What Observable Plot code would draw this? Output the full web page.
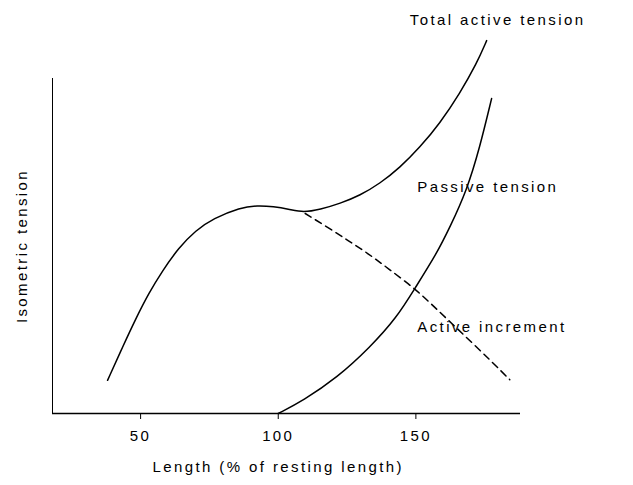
<!DOCTYPE html>
<html>
<head>
<meta charset="utf-8">
<script src="https://cdn.jsdelivr.net/npm/d3@7"></script>
<script src="https://cdn.jsdelivr.net/npm/@observablehq/plot@0.6"></script>
<style>
  html, body { margin: 0; padding: 0; background: #fff; }
  svg text { letter-spacing: 2.4px; }
</style>
</head>
<body>
<div id="chart"></div>
<script>
// Length (% of resting length) and isometric tension (arbitrary units, axis top = 100)
const totalLength  = [38.0, 43.5, 48.2, 52.9, 58.0, 63.8, 69.9, 76.4, 86.2, 92.4, 98.2, 104.3, 109.1, 115.2, 122.5, 129.7, 137.0, 144.2, 151.4, 158.7, 165.9, 172.1, 175.7];
const totalTension = [9.9, 19.9, 28.2, 35.8, 42.7, 49.4, 54.6, 58.2, 61.5, 62.1, 61.8, 60.9, 60.0, 60.9, 62.7, 65.1, 68.7, 73.4, 79.4, 86.6, 95.5, 104.5, 111.3];

const passiveLength  = [100, 109.1, 121.4, 133.3, 143.1, 149.6, 157.6, 162.3, 168.5, 173.2, 177.5];
const passiveTension = [0, 3.9, 10.7, 19.7, 28.7, 37.3, 47.8, 55.5, 66.6, 79.4, 94.0];

const activeLength  = [109.8, 118.1, 125.4, 132.6, 139.9, 149.6, 156.2, 163.4, 170.7, 177.9, 184.1];
const activeTension = [59.7, 55.5, 51.6, 47.8, 43.3, 37.3, 32.2, 26.6, 20.9, 15.2, 10.1];

const xTicks = [50, 100, 150];
const seriesLabels = ["Total active tension", "Passive tension", "Active increment"];
const labelX = [147.8, 150.5, 150.5];
const labelY = [117.3, 67.5, 25.7];
const xTitle = "Length (% of resting length)";
const yTitle = "Isometric tension";

const toRows = (xs, ys) => xs.map((x, i) => ({x, y: ys[i]}));
const total = toRows(totalLength, totalTension);
const passive = toRows(passiveLength, passiveTension);
const active = toRows(activeLength, activeTension);
const labels = seriesLabels.map((t, i) => ({t, x: labelX[i], y: labelY[i]}));

const font = "'Liberation Sans', Arial, Helvetica, sans-serif";

const chart = Plot.plot({
  width: 633,
  height: 485,
  marginLeft: 52,
  marginRight: 113,
  marginTop: 11,
  marginBottom: 72,
  style: {fontFamily: font, fontSize: "15px", color: "#000", background: "#fff"},
  x: {domain: [18, 188]},
  y: {domain: [0, 120], axis: null},
  marks: [
    Plot.axisX({ticks: xTicks, tickSize: 6, tickPadding: 11, label: null, fontSize: 15}),
    Plot.ruleY([0], {stroke: "#000", strokeWidth: 1.5}),
    Plot.ruleX([18], {y1: 0, y2: 100, stroke: "#000", strokeWidth: 1}),
    Plot.line(total, {x: "x", y: "y", curve: "basis", stroke: "#000", strokeWidth: 1.5}),
    Plot.line(passive, {x: "x", y: "y", curve: "basis", stroke: "#000", strokeWidth: 1.5}),
    Plot.line(active, {x: "x", y: "y", curve: "basis", stroke: "#000", strokeWidth: 1.5, strokeDasharray: "7,5"}),
    Plot.text(labels, {x: "x", y: "y", text: "t", textAnchor: "start", fontSize: 15, fill: "#000"}),
    Plot.text([xTitle], {x: 100, y: 0, dy: 54, text: d => d, fontSize: 15, fill: "#000"}),
    Plot.text([yTitle], {x: 18, y: 50, dx: -30, rotate: -90, text: d => d, fontSize: 15, fill: "#000"})
  ]
});
document.getElementById("chart").appendChild(chart);
</script>
</body>
</html>
